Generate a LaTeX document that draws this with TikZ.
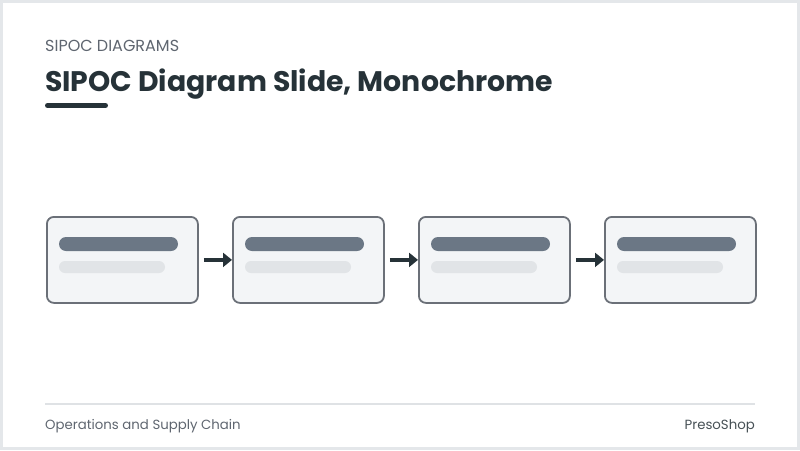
\documentclass[tikz,border=0pt]{standalone}
\usepackage{fontspec}
\setmainfont{Poppins}
\usetikzlibrary{arrows.meta}
\definecolor{frame}{HTML}{E4E7EA}
\definecolor{dark}{HTML}{263238}
\definecolor{subt}{HTML}{5F6670}
\definecolor{boxb}{HTML}{6B7078}
\definecolor{boxf}{HTML}{F3F5F7}
\definecolor{bara}{HTML}{6B7785}
\definecolor{barb}{HTML}{E1E4E7}
\definecolor{rule}{HTML}{DFE2E5}
\tikzset{
  stepbox/.style={draw=boxb, line width=1.8pt, fill=boxf, rounded corners=7pt, minimum width=151pt, minimum height=86pt, inner sep=0pt},
  flow/.style={draw=dark, line width=3.5pt, -{Triangle[length=9pt,width=14pt]}}
}
\begin{document}
\begin{tikzpicture}[x=1pt,y=-1pt]
\useasboundingbox (0,0) rectangle (800,450);
\fill[white] (0,0) rectangle (800,450);
\draw[frame, line width=3pt] (1.5,1.5) rectangle (798.5,448.5);
\node[anchor=base west, text=subt, font=\fontsize{16}{19}\selectfont, inner sep=0pt] (kicker) at (45,51) {SIPOC DIAGRAMS};
\node[anchor=base west, text=dark, font=\fontsize{28.3}{32}\selectfont\bfseries, inner sep=0pt] (title) at (45,91) {SIPOC Diagram Slide, Monochrome};
\draw[dark, line width=5pt, line cap=round] (47.5,105.5) -- (105.5,105.5);
\foreach \i/\x in {1/46,2/232,3/418,4/604}{
  \node[stepbox, anchor=north west] (b\i) at (\x,216) {};
  \fill[bara, rounded corners=7pt] (\x+13,237) rectangle (\x+132,251);
  \fill[barb, rounded corners=6pt] (\x+13,261) rectangle (\x+119,273);
}
\foreach \a/\b in {1/2,2/3,3/4}{
  \draw[flow] (b\a.east) ++(5,0) coordinate (s\a) -- (b\b.west);
}
\draw[rule, line width=1.5pt] (45,404) -- (755,404);
\node[anchor=base west, text=subt, font=\fontsize{13.3}{15}\selectfont, inner sep=0pt] (foot) at (45,429) {Operations and Supply Chain};
\node[anchor=base east, text=dark!85, font=\fontsize{13.3}{15}\selectfont, inner sep=0pt] (brand) at (755,429) {PresoShop};
\end{tikzpicture}
\end{document}
